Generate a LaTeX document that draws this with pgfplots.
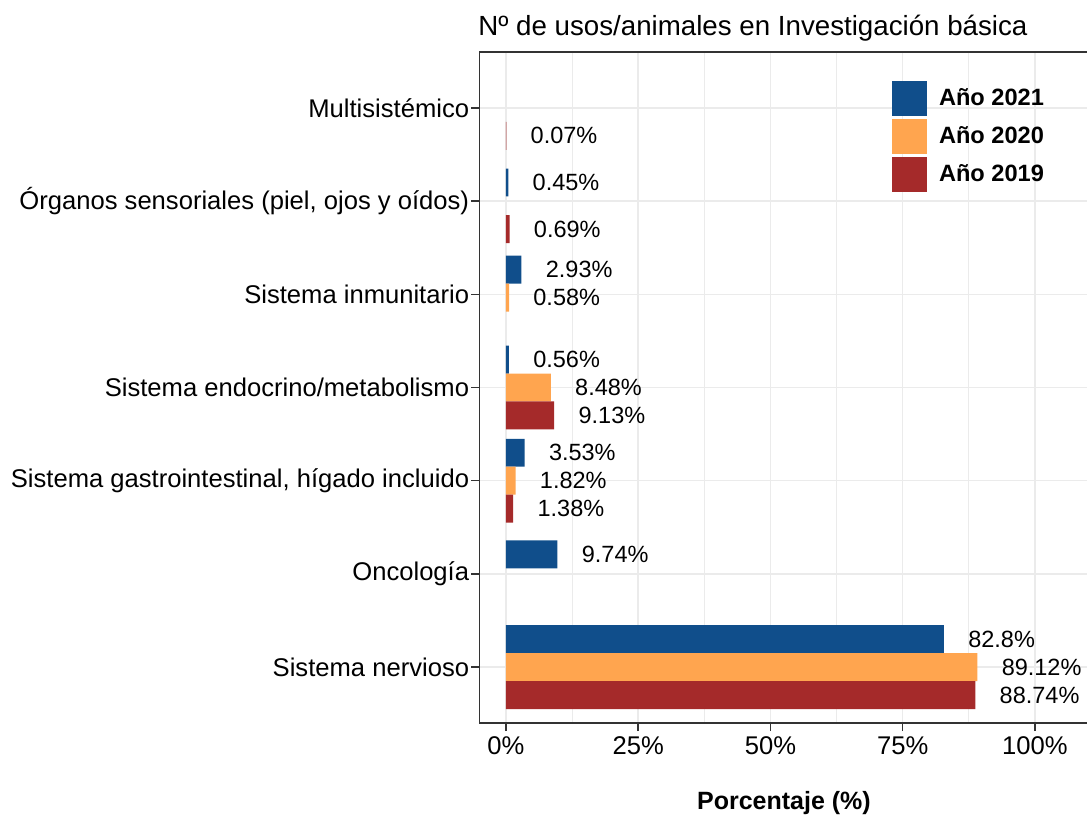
\documentclass[border=0pt]{standalone}
\usepackage{pgfplots}
\pgfplotsset{compat=1.18}
\usepackage{fontspec}
\setmainfont{Liberation Sans}
\definecolor{c21}{HTML}{104E8B}
\definecolor{c20}{HTML}{FFA54F}
\definecolor{c19}{HTML}{A52A2A}
\definecolor{gridc}{HTML}{EBEBEB}
\definecolor{axc}{HTML}{333333}
\begin{document}
\begin{tikzpicture}
\begin{axis}[
  scale only axis,
  width=318.7pt, height=335.5pt,
  xmin=-5, xmax=115.5,
  ymin=0.4, ymax=7.6,
  xbar, bar shift=0pt, bar width=0.3,
  /pgf/number format/assume math mode=true,
  axis line style={color=axc, line width=0.75pt},
  tick align=outside,
  tick pos=left,
  major tick length=4pt,
  minor tick length=0pt,
  tick style={color=axc, line width=0.75pt},
  xtick={0,25,50,75,100},
  xticklabels={0\%,25\%,50\%,75\%,100\%},
  minor xtick={12.5,37.5,62.5,87.5,112.5},
  ytick={1,2,3,4,5,6,7},
  yticklabels={Sistema nervioso,Oncología,{Sistema gastrointestinal, hígado incluido},Sistema endocrino/metabolismo,Sistema inmunitario,{Órganos sensoriales (piel, ojos y oídos)},Multisistémico},
  xmajorgrids, ymajorgrids, xminorgrids,
  major grid style={color=gridc, line width=0.75pt},
  minor grid style={color=gridc, line width=0.4pt},
  yticklabel style={font=\fontsize{12.8}{15}\selectfont, text=black, anchor=east, inner sep=0pt, xshift=-1pt},
  xticklabel style={font=\fontsize{12.8}{15}\selectfont, text=black, anchor=north, inner sep=0pt, yshift=-2.5pt},
  xlabel={Porcentaje (\%)},
  xlabel style={at={(axis description cs:0.4777,0)}, anchor=north, inner sep=0pt, yshift=-34pt, font=\fontsize{12.5}{15}\selectfont\bfseries},
  title={Nº de usos/animales en Investigación básica},
  title style={at={(axis description cs:0,1)}, anchor=base west, inner sep=0pt, yshift=2.5pt, xshift=-0.75pt, font=\fontsize{13.85}{16}\selectfont},
  point meta=x,
  nodes near coords={\pgfmathprintnumber[fixed,precision=2]{\pgfplotspointmeta}\%},
  every node near coord/.append style={anchor=west, inner sep=0pt, xshift=12pt, font=\fontsize{11.75}{14}\selectfont, text=black},
  legend cell align=left,
  legend image code/.code={\path[#1,draw=none] (0pt,-8.75pt) rectangle (17.5pt,8.75pt);},
  legend style={at={(axis description cs:0.6472,0.9572)}, anchor=north west, draw=none, fill=none, inner sep=0pt, outer sep=0pt, row sep=1.5pt, font=\fontsize{11.8}{14}\selectfont\bfseries, nodes={inner sep=0pt}, /tikz/every odd column/.append style={column sep=6pt}},
]
\addplot[fill=c21, draw=none] coordinates {(82.8,1.30) (9.74,2.21) (3.53,3.30) (0.56,4.30) (2.93,5.265) (0.45,6.20)};
\addlegendentry{Año 2021}
\addplot[fill=c20, draw=none] coordinates {(89.12,1.00) (1.82,3.00) (8.48,4.00) (0.58,4.965)};
\addlegendentry{Año 2020}
\addplot[fill=c19, draw=none] coordinates {(88.74,0.70) (1.38,2.70) (9.13,3.70) (0.69,5.70) (0.07,6.70)};
\addlegendentry{Año 2019}
\end{axis}
\pgfresetboundingbox
\path[use as bounding box] ([shift={(-239.75pt,-45.5pt)}]current axis.south west) rectangle ([shift={(303.75pt,361.5pt)}]current axis.south west);
\end{tikzpicture}
\end{document}
